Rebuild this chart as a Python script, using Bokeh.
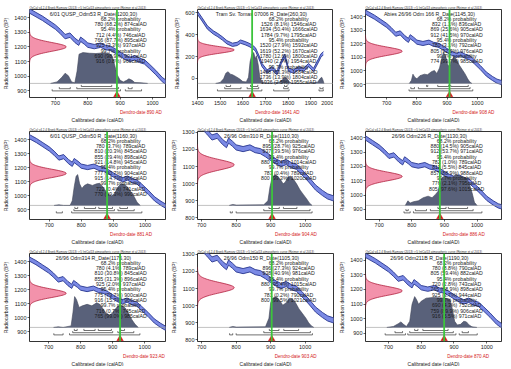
import numpy as np
from bokeh.plotting import figure
from bokeh.layouts import gridplot
from bokeh.models import Range1d, FixedTicker, Span, Title
from bokeh.core.properties import value
from bokeh.embed import file_html
from bokeh.resources import INLINE

FONT = "Liberation Sans"
HEADER = "OxCal v4.2.4 Bronk Ramsey (2013); r:5 IntCal13 atmospheric curve (Reimer et al 2013)"

# ---------------- calibration curve ----------------
cal_years_a = [600, 620, 640, 660, 680, 700, 715, 730, 745, 760, 772, 778, 790, 800, 820,
               840, 855, 870, 885, 900, 915, 930, 945, 960, 975, 990, 1010, 1030, 1050,
               1065, 1080, 1100]
cal_bp_a = [1470, 1445, 1420, 1395, 1365, 1335, 1305, 1270, 1280, 1245, 1225, 1252, 1232,
            1212, 1202, 1212, 1196, 1190, 1172, 1150, 1130, 1115, 1126, 1108, 1098, 1068,
            1025, 977, 945, 925, 915, 915]
cal_years_b = [1400, 1420, 1444, 1470, 1490, 1510, 1530, 1554, 1575, 1590, 1610, 1627, 1642,
               1656, 1670, 1685, 1707, 1729, 1751, 1770, 1785, 1802, 1824, 1846, 1868, 1890,
               1912, 1934, 1944, 1955]
cal_bp_b = [600, 540, 465, 420, 395, 365, 330, 307, 315, 336, 322, 307, 290, 264, 200, 121,
            63, 92, 49, 150, 207, 78, 63, 92, 78, 121, 78, 164, 207, 230]
cal_sigma = 15

# ---------------- samples ----------------
sample_names = ["6/01 QUSP_Odm53", "Tram Sv. Tomas 07006", "Abies 26/96 Odm 166",
                "6/01 QUSP_Odm50", "26/96 Odm310", "26/96 Odm226",
                "26/96 Odm314", "26/96 Odm150", "26/96 Odm211B"]
c14_dates = [1200, 260, 1145, 1160, 1110, 1130, 1175, 1105, 1190]
c14_errors = [30, 30, 30, 30, 30, 30, 30, 30, 30]
dendro_dates = [890, 1641, 908, 881, 904, 886, 923, 903, 870]

ranges_68 = [
    [(780, 68.2, 874)],
    [(1526, 8.1, 1546), (1634, 50.4, 1666), (1784, 9.7, 1795)],
    [(832, 1.1, 836), (869, 25.6, 905), (912, 41.5, 970)],
    [(780, 3.7, 789), (810, 20.3, 845), (855, 29.4, 898), (921, 14.8, 945)],
    [(895, 28.7, 925), (937, 39.5, 976)],
    [(880, 14.5, 905), (912, 53.7, 971)],
    [(780, 4.1, 789), (810, 30.8, 845), (855, 31.3, 896), (925, 2.0, 937)],
    [(896, 27.3, 924), (938, 40.9, 981)],
    [(780, 8.8, 790), (805, 59.4, 882)],
]
ranges_95 = [
    [(712, 4.4, 746), (766, 87.7, 895), (925, 3.3, 937)],
    [(1520, 27.9, 1592), (1619, 52.2, 1670), (1780, 12.6, 1800), (1940, 2.7, 1954)],
    [(780, 3.1, 792), (805, 92.3, 976)],
    [(777, 80.7, 904), (915, 14.7, 966)],
    [(880, 95.4, 1014)],
    [(782, 1.0, 789), (811, 5.5, 845), (857, 88.9, 988)],
    [(775, 79.7, 900), (916, 15.7, 966)],
    [(880, 95.4, 1015)],
    [(720, 2.8, 743), (765, 88.9, 898), (925, 3.7, 944)],
]
ranges_997 = [
    [(690, 98.9, 901), (916, 0.8, 966)],
    [(1488, 83.3, 1684), (1736, 13.9, 1804), (1936, 2.5, 1955)],
    [(774, 99.7, 985)],
    [(722, 0.4, 741), (770, 99.3, 990)],
    [(783, 0.4, 789), (800, 99.3, 1020)],
    [(776, 2.1, 795), (805, 97.6, 1015)],
    [(716, 0.7, 745), (765, 99.0, 985)],
    [(781, 0.2, 790), (800, 99.5, 1021)],
    [(690, 4.3, 752), (759, 89.9, 906), (916, 5.5, 971)],
]

# posterior (calibrated) probability distributions, relative density
post_years = [
    [685, 705, 720, 730, 740, 750, 760, 767, 773, 785, 805, 825, 845, 865, 875, 883, 890, 900, 910, 920, 927, 937, 945, 965, 985],
    [1480, 1500, 1515, 1525, 1535, 1545, 1555, 1570, 1585, 1600, 1615, 1625, 1632, 1640, 1648, 1655, 1660, 1668, 1675, 1685, 1700, 1730, 1760, 1775, 1785, 1795, 1805, 1815, 1880, 1930, 1940, 1948, 1953, 1958],
    [775, 782, 787, 793, 800, 810, 825, 835, 848, 858, 866, 875, 882, 888, 895, 902, 908, 915, 922, 930, 940, 950, 960, 968, 975, 982],
    [715, 730, 745, 765, 772, 778, 784, 789, 795, 802, 810, 820, 835, 848, 858, 868, 878, 888, 895, 905, 915, 925, 935, 945, 955, 965, 975, 985],
    [780, 790, 800, 880, 892, 898, 904, 912, 920, 928, 936, 942, 950, 958, 966, 975, 985, 995, 1005, 1012, 1020],
    [780, 788, 795, 805, 820, 835, 850, 862, 872, 880, 886, 893, 900, 912, 925, 935, 950, 965, 975, 985, 992, 1000],
    [715, 730, 745, 770, 776, 781, 787, 795, 805, 820, 835, 850, 860, 870, 880, 890, 898, 908, 920, 930, 940, 950, 960, 970, 980],
    [780, 790, 800, 885, 895, 900, 906, 915, 925, 935, 945, 955, 963, 972, 982, 992, 1002, 1010, 1018, 1025],
    [695, 715, 730, 738, 746, 755, 765, 772, 780, 786, 792, 800, 815, 835, 855, 875, 888, 895, 902, 910, 920, 930, 938, 946, 955, 970],
]
post_density = [
    [0, 0.05, 0.2, 0.33, 0.25, 0.05, 0.02, 0.4, 0.95, 1.0, 0.98, 0.97, 0.99, 0.98, 0.9, 0.6, 0.3, 0.1, 0.05, 0.1, 0.15, 0.1, 0.03, 0.02, 0],
    [0, 0.03, 0.15, 0.33, 0.38, 0.3, 0.28, 0.22, 0.15, 0.06, 0.05, 0.2, 0.7, 0.95, 1.0, 0.8, 0.9, 0.6, 0.2, 0.05, 0.01, 0.01, 0.04, 0.12, 0.2, 0.15, 0.05, 0.01, 0, 0.04, 0.15, 0.2, 0.12, 0],
    [0, 0.1, 0.3, 0.2, 0.15, 0.25, 0.3, 0.28, 0.38, 0.42, 0.32, 0.5, 0.8, 1.0, 0.9, 0.6, 0.55, 0.75, 0.85, 0.8, 0.6, 0.45, 0.3, 0.15, 0.05, 0],
    [0, 0.02, 0, 0, 0.15, 0.6, 0.95, 1.0, 0.7, 0.55, 0.65, 0.7, 0.65, 0.7, 0.72, 0.6, 0.45, 0.35, 0.3, 0.4, 0.6, 0.7, 0.68, 0.6, 0.45, 0.3, 0.1, 0],
    [0, 0.03, 0.01, 0.02, 0.15, 0.6, 0.9, 1.0, 0.95, 0.85, 0.7, 0.75, 0.92, 0.95, 0.85, 0.7, 0.5, 0.35, 0.2, 0.08, 0],
    [0, 0.15, 0.08, 0.12, 0.15, 0.25, 0.3, 0.25, 0.35, 0.45, 0.7, 0.9, 0.95, 0.9, 0.92, 1.0, 0.95, 0.9, 0.75, 0.4, 0.1, 0],
    [0, 0.02, 0, 0.05, 0.5, 1.0, 0.9, 0.65, 0.7, 0.75, 0.7, 0.8, 0.75, 0.6, 0.45, 0.4, 0.45, 0.6, 0.72, 0.7, 0.62, 0.45, 0.25, 0.1, 0],
    [0, 0.03, 0.01, 0.02, 0.3, 0.8, 0.95, 1.0, 0.9, 0.72, 0.8, 0.95, 0.92, 0.8, 0.6, 0.45, 0.3, 0.15, 0.05, 0],
    [0, 0.03, 0.12, 0.18, 0.1, 0.03, 0.2, 0.75, 1.0, 0.9, 0.75, 0.85, 0.95, 0.97, 0.96, 0.95, 0.9, 0.6, 0.2, 0.08, 0.1, 0.2, 0.18, 0.08, 0.02, 0],
]

# axis windows and ticks for each panel
x_windows = [(620, 1040), (1400, 2000), (630, 1080), (638, 1064), (688, 1082),
             (658, 1075), (640, 1065), (688, 1082), (630, 1045)]
y_windows = [(855, 1455), (-175, 630), (805, 1452), (830, 1460), (790, 1305),
             (830, 1443), (830, 1460), (790, 1305), (845, 1445)]
x_ticks_early = [700, 800, 900, 1000]
x_ticks_late = [1400, 1500, 1600, 1700, 1800, 1900, 2000]
y_ticks_early = [800, 900, 1000, 1100, 1200, 1300, 1400]
y_ticks_late = [0, 200, 400, 600]

# ---------------- styling ----------------
FW, FH = 136, 88
BAND_FILL = "#7484e4"
BAND_LINE = "#27368f"
RED_FILL = "#f28ca6"
RED_LINE = "#b0203e"
POST_FILL = "#59617a"
POST_LINE = "#3f4559"
GREEN = "#3cc43c"
DENDRO_RED = "#d41a1a"
TXT = "#1a1a1a"


def make_panel(i):
    x0, x1 = x_windows[i]
    y0, y1 = y_windows[i]
    late = i == 1
    px_x = (x1 - x0) / FW
    px_y = (y1 - y0) / FH
    p = figure(frame_width=FW, frame_height=FH, output_backend="svg", toolbar_location=None,
               x_range=Range1d(x0, x1), y_range=Range1d(y0, y1),
               min_border_left=26, min_border_right=3, min_border_top=9, min_border_bottom=0,
               background_fill_color="white", border_fill_color="white")
    p.title.text = HEADER
    p.title.text_font = FONT
    p.title.text_font_size = "3px"
    p.title.text_font_style = "normal"
    p.title.text_color = "#333333"
    p.title.standoff = 1
    p.outline_line_color = "black"
    p.outline_line_width = 0.8
    p.grid.visible = False

    # calibration curve band
    cy = cal_years_b if late else cal_years_a
    cb = np.array(cal_bp_b if late else cal_bp_a, dtype=float)
    p.varea(x=cy, y1=cb - cal_sigma, y2=cb + cal_sigma, fill_color=BAND_FILL, fill_alpha=0.95)
    p.line(cy, cb + cal_sigma, line_color=BAND_LINE, line_width=0.9)
    p.line(cy, cb - cal_sigma, line_color=BAND_LINE, line_width=0.9)

    # radiocarbon date (normal) on the y axis
    mu, sd = c14_dates[i], c14_errors[i]
    ys = np.linspace(mu - 4 * sd, mu + 4 * sd, 81)
    w = np.exp(-0.5 * ((ys - mu) / sd) ** 2)
    xs = x0 + w * 0.27 * (x1 - x0)
    p.harea(y=ys, x1=x0, x2=xs, fill_color=RED_FILL, fill_alpha=0.95)
    p.line(xs, ys, line_color=RED_LINE, line_width=0.8)

    # posterior distribution
    base = y0 + 0.16 * (y1 - y0)
    height = 0.35 * (y1 - y0)
    py = np.array(post_density[i]) * height + base
    p.line([x0, x1], [base, base], line_color="#9a9a9a", line_width=0.6)
    p.varea(x=post_years[i], y1=base, y2=py, fill_color=POST_FILL, fill_alpha=1.0)
    p.line(post_years[i], py, line_color=POST_LINE, line_width=0.6)

    # range brackets
    levels = [ranges_68[i], ranges_95[i], ranges_997[i]]
    fracs = [0.125, 0.10, 0.075]
    tick = 1.6 * px_y
    for rng, fr in zip(levels, fracs):
        yl = y0 + fr * (y1 - y0)
        x_s, y_s, x_e, y_e = [], [], [], []
        for a, _, b in rng:
            x_s += [a, a, b]
            y_s += [yl, yl, yl]
            x_e += [b, a, b]
            y_e += [yl, yl + tick, yl + tick]
        p.segment(x0=x_s, y0=y_s, x1=x_e, y1=y_e, line_color="#333333", line_width=0.7)

    # dendro date marker
    d = dendro_dates[i]
    p.add_layout(Span(location=d, dimension="height", line_color=GREEN, line_width=1.8))
    p.scatter([d], [y0 + 2.6 * px_y], marker="triangle", size=6.5, fill_color=DENDRO_RED,
              line_color=DENDRO_RED, line_width=0.5)

    # text block
    lines = [f"{sample_names[i]} R_Date({c14_dates[i]},{c14_errors[i]})"]
    for lab, rng in zip(["68.2% probability", "95.4% probability", "99.7% probability"], levels):
        lines.append(lab)
        for a, pc, b in rng:
            lines.append(f"{a} ({pc}%) {b}calAD")
    step = 5.3
    tx = [x0 + 0.47 * (x1 - x0)] + [x0 + 0.67 * (x1 - x0)] * (len(lines) - 1)
    ty = [y1 - (1.0 + step * k) * px_y for k in range(len(lines))]
    p.text(x=tx, y=ty, text=lines, text_font=value(FONT), text_font_size="5.2px",
           text_color=TXT, text_align="center", text_baseline="top")

    # axes
    p.xaxis.ticker = FixedTicker(ticks=x_ticks_late if late else x_ticks_early)
    p.yaxis.ticker = FixedTicker(ticks=y_ticks_late if late else y_ticks_early)
    p.yaxis.axis_label = "Radiocarbon determination (BP)"
    for ax in (p.xaxis, p.yaxis):
        ax.axis_label_text_font = FONT
        ax.axis_label_text_font_size = "5px"
        ax.axis_label_text_font_style = "normal"
        ax.axis_label_text_color = TXT
        ax.major_label_text_font = FONT
        ax.major_label_text_font_size = "5.5px"
        ax.major_label_text_color = TXT
        ax.major_tick_out = 2
        ax.major_tick_in = 0
        ax.minor_tick_out = 0
        ax.minor_tick_in = 0
        ax.major_label_standoff = 1
        ax.axis_line_color = None
        ax.major_tick_line_color = "black"
        ax.major_tick_line_width = 0.6
    p.yaxis.axis_label_standoff = 2

    # below the axis: dendro-date note, then the axis title
    p.add_layout(Title(text=f"Dendro-date {d} AD", text_font=FONT, text_font_size="4.6px",
                       text_font_style="normal", text_color=DENDRO_RED, align="left",
                       offset=(d - x0) / px_x + 3, standoff=0), "below")
    p.add_layout(Title(text="Calibrated date (calAD)", text_font=FONT, text_font_size="5px",
                       text_font_style="normal", text_color=TXT, align="center",
                       standoff=0), "below")
    return p


panels = [make_panel(i) for i in range(9)]
grid = gridplot([panels[0:3], panels[3:6], panels[6:9]], toolbar_location=None)
open("out.html", "w").write(file_html(grid, INLINE))
